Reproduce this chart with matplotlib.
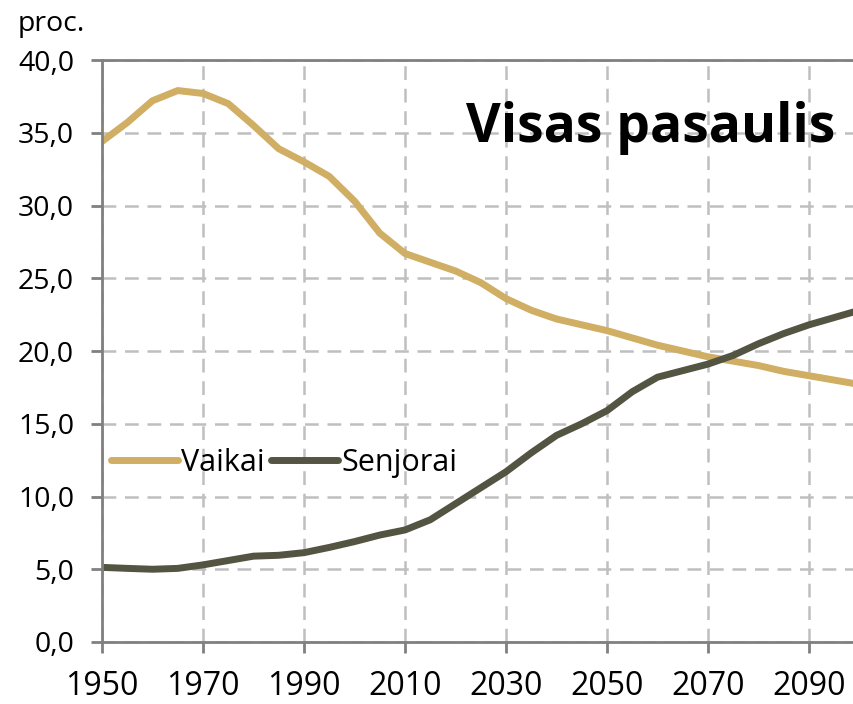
import numpy as np
import matplotlib
matplotlib.use("Agg")
import matplotlib.pyplot as plt

years = list(range(1950, 2101, 5))

# vaiku dalis, proc.
vaikai = [34.4, 35.7, 37.2, 37.9, 37.7, 37.0, 35.5, 33.9, 33.0, 32.0,
          30.3, 28.1, 26.7, 26.1, 25.5, 24.7, 23.6, 22.8, 22.2, 21.8,
          21.4, 20.9, 20.4, 20.0, 19.6, 19.3, 19.0, 18.6, 18.3, 18.0, 17.7]

# senjoru dalis, proc.
senjorai = [5.13, 5.06, 5.0, 5.06, 5.3, 5.6, 5.9, 5.96, 6.14, 6.5,
            6.9, 7.35, 7.7, 8.4, 9.5, 10.6, 11.7, 13.0, 14.2, 15.0,
            15.9, 17.2, 18.2, 18.65, 19.1, 19.7, 20.5, 21.2, 21.8, 22.3, 22.8]

xticks = list(range(1950, 2091, 20))
yticks = np.arange(0, 40.1, 5)

plt.rcParams['font.family'] = ['Open Sans', 'DejaVu Sans']

fig = plt.figure(figsize=(8.54, 7.04), dpi=100)
ax = fig.add_axes([102/854, 1-642/704, (859.5-102)/854, (642-60)/704])

ax.plot(years, vaikai, color='#D0AE63', lw=5, label='Vaikai', solid_capstyle='round')
ax.plot(years, senjorai, color='#545442', lw=5, label='Senjorai', solid_capstyle='round')

ax.set_xlim(1950, 2100)
ax.set_ylim(0, 40)
ax.set_xticks(xticks)
ax.set_yticks(yticks)
ax.set_yticklabels([f"{v:.1f}".replace('.', ',') for v in yticks])

ax.grid(True, color='#BFBFBF', ls=(0, (5.5, 3.5)), lw=1.8)
for s in ['left', 'bottom', 'top']:
    ax.spines[s].set_color('#808080')
    ax.spines[s].set_linewidth(2)
ax.spines['right'].set_visible(False)
ax.tick_params(axis='both', direction='out', length=8, width=2, color='#808080')
ax.tick_params(axis='y', labelsize=20.5, pad=12)
ax.tick_params(axis='x', labelsize=23, pad=12)

ax.text(0.968, 0.883, 'Visas pasaulis', transform=ax.transAxes, ha='right', va='center',
        fontsize=38.5, fontweight='bold')
fig.text(18/854, 1-24/704, 'proc.', fontsize=20.5, va='center', ha='left')

ax.legend(loc='center left', bbox_to_anchor=(0.0, (642-463)/582), ncol=2, frameon=False,
          fontsize=22, handlelength=2.2, handletextpad=0.1, columnspacing=0.2,
          borderaxespad=0.0, borderpad=0.3)

fig.savefig('out.png', dpi=100)
